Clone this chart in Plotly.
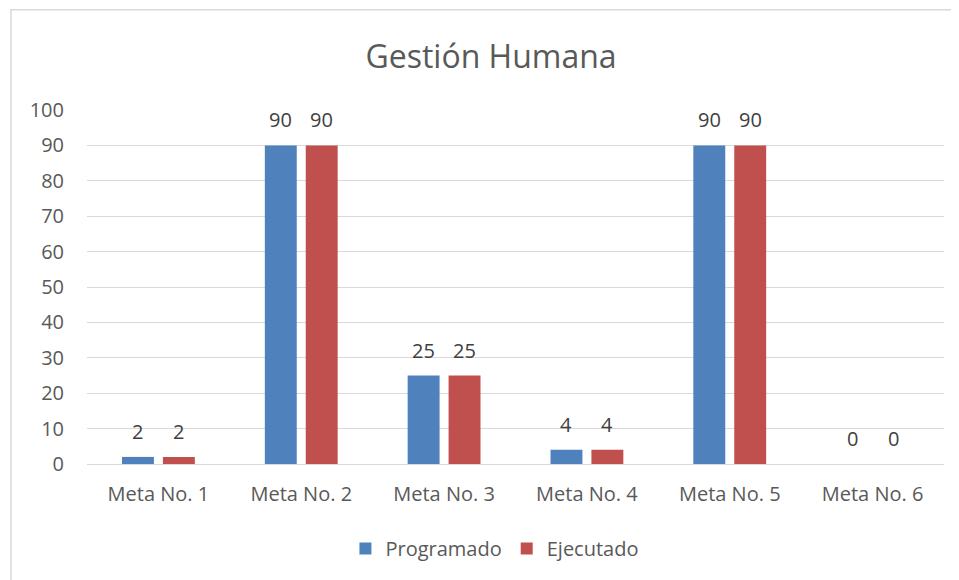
import plotly.graph_objects as go

categorias = ["Meta No. 1", "Meta No. 2", "Meta No. 3", "Meta No. 4", "Meta No. 5", "Meta No. 6"]
programado = [2, 90, 25, 4, 90, 0]
ejecutado = [2, 90, 25, 4, 90, 0]
y_ticks = list(range(0, 101, 10))

AZUL = "#4F81BD"
ROJO = "#C0504D"
TEXTO = "#595959"
FUENTE = "Open Sans"

# la pagina deja 8px de margen en el body, la figura se achica en eso
W, H = 951, 572

fig = go.Figure()

# -------------------------------------------------
# BARRAS
# -------------------------------------------------
series = [("Programado", programado, AZUL, -20.5), ("Ejecutado", ejecutado, ROJO, 20.5)]
for nombre, valores, color, dx in series:
    fig.add_trace(go.Bar(
        x=categorias,
        y=valores,
        name=nombre,
        marker=dict(color=color, line=dict(width=0)),
    ))
    # etiquetas de datos encima de cada barra
    for cat, v in zip(categorias, valores):
        fig.add_annotation(
            x=cat, y=v, text=str(v),
            showarrow=False,
            xshift=dx, yshift=10,
            yanchor="bottom",
            font=dict(family=FUENTE, size=20, color="#404040"),
        )

# -------------------------------------------------
# LAYOUT
# -------------------------------------------------
fig.update_layout(
    width=W,
    height=H,
    barmode="group",
    bargap=0.427,
    bargroupgap=0.22,
    plot_bgcolor="white",
    paper_bgcolor="white",
    margin=dict(l=79, r=15, t=102, b=116),
    font=dict(family=FUENTE, color=TEXTO),
    title=dict(
        text="Gestión Humana",
        x=483 / W,
        xanchor="center",
        xref="container",
        y=1 - 49 / H,
        yanchor="middle",
        yref="container",
        font=dict(family=FUENTE, size=32, color=TEXTO),
    ),
    xaxis=dict(
        showgrid=False,
        showline=False,
        ticks="",
        ticklabelstandoff=16,
        tickfont=dict(family=FUENTE, size=20, color=TEXTO),
    ),
    yaxis=dict(
        range=[0, 100],
        tickvals=y_ticks,
        showgrid=True,
        gridcolor="#D9D9D9",
        gridwidth=1,
        zeroline=True,
        zerolinecolor="#D9D9D9",
        zerolinewidth=1,
        showline=False,
        ticks="",
        ticklabelstandoff=22,
        tickfont=dict(family=FUENTE, size=20, color=TEXTO),
    ),
    legend=dict(
        orientation="h",
        x=0.476,
        xanchor="center",
        y=-0.239,
        yanchor="middle",
        font=dict(family=FUENTE, size=20, color=TEXTO),
        itemwidth=30,
    ),
    shapes=[dict(
        type="rect",
        xref="paper",
        yref="paper",
        x0=-0.0887,
        x1=1.03,
        y0=-0.36,
        y1=1.283,
        line=dict(color="#D9D9D9", width=1.5),
        fillcolor="rgba(0,0,0,0)",
        layer="below",
    )],
)

fig.write_html("out.html")
